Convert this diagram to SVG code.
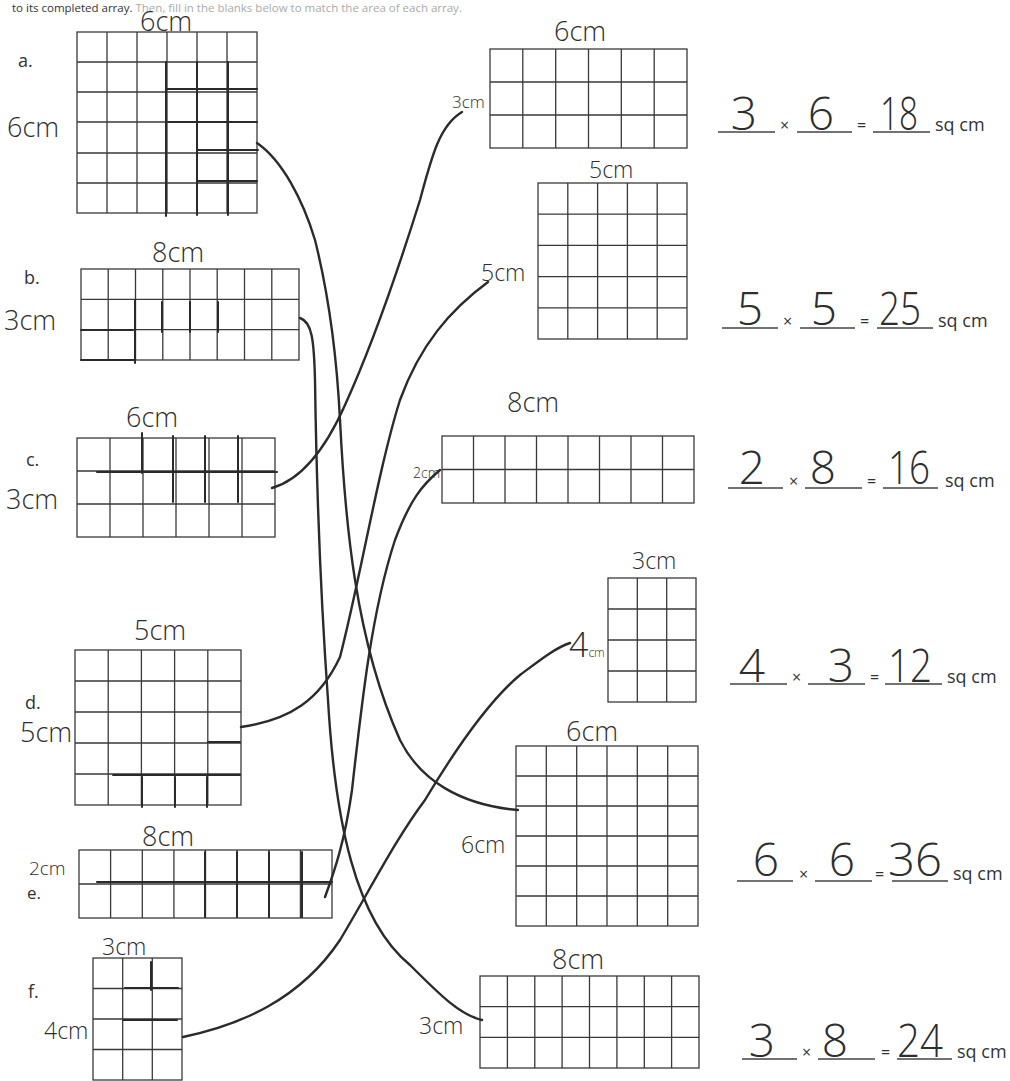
<svg xmlns="http://www.w3.org/2000/svg" width="1010" height="1081" viewBox="0 0 1010 1081">
<style>
.g{fill:none;stroke:#3a3a3a;stroke-width:1.3}
.m{fill:none;stroke:#2a2a2a;stroke-width:2;stroke-linecap:round}
.c{fill:none;stroke:#2b2b2b;stroke-width:2.4;stroke-linecap:round;stroke-linejoin:round}
.h{font-family:"Open Sans","Liberation Sans",sans-serif;font-weight:300;fill:#2e2e2e}
.hl{font-size:27px}
.hs{font-size:23px}
.n{font-size:46px;text-anchor:middle}
.p{font-family:"Open Sans","Liberation Sans",sans-serif;fill:#333;font-size:18px}
.o{font-size:16px}
.u{stroke:#444;stroke-width:1.4}
</style>
<rect width="1010" height="1081" fill="#fff"/>
<text x="12" y="12" style="font-family:'Open Sans','Liberation Sans',sans-serif;font-size:11.5px;fill:#333">to its completed array.  <tspan fill="#aaa">Then, fill in the blanks below to match the area of each array.</tspan></text>

<g id="grid-a">
<rect class="g" x="77" y="32" width="180" height="181"/>
<path class="g" d="M107 32V213M137 32V213M167 32V213M197 32V213M227 32V213M77 62H257M77 92H257M77 122H257M77 153H257M77 183H257"/>
<path class="m" d="M166 62V216M197 62V215M228 62V215M167 89H257M168 122H257M198 150H258M198 181H257"/>
<text class="p" x="18" y="67">a.</text>
<text class="h hl" x="140" y="31">6cm</text>
<text class="h hl" x="7" y="137">6cm</text>
</g>

<g id="grid-b">
<rect class="g" x="81" y="269" width="218" height="91"/>
<path class="g" d="M108.2 269V360M135.5 269V360M162.8 269V360M190 269V360M217.2 269V360M244.5 269V360M271.8 269V360M81 299.3H299M81 329.7H299"/>
<path class="m" d="M135 300V363M162 302V332M190 302V332M218 302V332M81 330H133M81 360H135"/>
<text class="p" x="24" y="284">b.</text>
<text class="h hl" x="152" y="262">8cm</text>
<text class="h hl" x="4" y="330">3cm</text>
</g>

<g id="grid-c">
<rect class="g" x="77" y="438" width="198" height="99"/>
<path class="g" d="M110 438V537M143 438V537M176 438V537M209 438V537M242 438V537M77 471H275M77 504H275"/>
<path class="m" d="M142 433V473M173 436V502M205 436V502M238 436V502M97 472H277"/>
<text class="p" x="26" y="466">c.</text>
<text class="h hl" x="126" y="427">6cm</text>
<text class="h hl" x="6" y="509">3cm</text>
</g>

<g id="grid-d">
<rect class="g" x="75" y="650" width="166" height="155"/>
<path class="g" d="M108.2 650V805M141.4 650V805M174.6 650V805M207.8 650V805M75 681H241M75 712H241M75 743H241M75 774H241"/>
<path class="m" d="M113 775H240M208 742H240M142 777V807M175 777V807M207 777V807"/>
<text class="p" x="25" y="709">d.</text>
<text class="h hl" x="134" y="640">5cm</text>
<text class="h hl" x="20" y="742">5cm</text>
</g>

<g id="grid-e">
<rect class="g" x="79" y="850" width="253" height="68"/>
<path class="g" d="M110.6 850V918M142.3 850V918M173.9 850V918M205.5 850V918M237.1 850V918M268.8 850V918M300.4 850V918M79 884H332"/>
<path class="m" d="M97 882H332M205 852V917M237 852V917M269 852V917M302 852V917"/>
<text class="p" x="27" y="899" style="font-size:17px">e.</text>
<text class="h" x="29" y="875" font-size="19">2cm</text>
<text class="h hl" x="142" y="846">8cm</text>
</g>

<g id="grid-f">
<rect class="g" x="93" y="958" width="89" height="122"/>
<path class="g" d="M122.7 958V1080M152.3 958V1080M93 988.5H182M93 1019H182M93 1049.5H182"/>
<path class="m" d="M125 988H178M123 1020H177M151 962V990"/>
<text class="p" x="28" y="998">f.</text>
<text class="h hs" x="102" y="955">3cm</text>
<text class="h hs" x="44" y="1039">4cm</text>
</g>

<g id="grid-r1">
<rect class="g" x="490" y="49" width="197" height="99"/>
<path class="g" d="M522.8 49V148M555.7 49V148M588.5 49V148M621.3 49V148M654.2 49V148M490 82H687M490 115H687"/>
<text class="h hl" x="554" y="41">6cm</text>
<text class="h" x="452" y="108" font-size="17">3cm</text>
</g>

<g id="grid-r2">
<rect class="g" x="538" y="183" width="149" height="156"/>
<path class="g" d="M567.8 183V339M597.6 183V339M627.4 183V339M657.2 183V339M538 214.2H687M538 245.4H687M538 276.6H687M538 307.8H687"/>
<text class="h hs" x="589" y="178">5cm</text>
<text class="h hs" x="481" y="281">5cm</text>
</g>

<g id="grid-r3">
<rect class="g" x="442" y="436" width="252" height="67"/>
<path class="g" d="M473.5 436V503M505 436V503M536.5 436V503M568 436V503M599.5 436V503M631 436V503M662.5 436V503M442 469.5H694"/>
<text class="h hl" x="507" y="412">8cm</text>
<text class="h" x="413" y="478" font-size="14">2cm</text>
</g>

<g id="grid-r4">
<rect class="g" x="608" y="578" width="88" height="124"/>
<path class="g" d="M637.3 578V702M666.7 578V702M608 609H696M608 640H696M608 671H696"/>
<text class="h hs" x="632" y="569">3cm</text>
<text class="h" x="569" y="657" font-size="34">4<tspan font-size="12">cm</tspan></text>
</g>

<g id="grid-r5">
<rect class="g" x="516" y="746" width="182" height="180"/>
<path class="g" d="M546.3 746V926M576.7 746V926M607 746V926M637.3 746V926M667.7 746V926M516 776H698M516 806H698M516 836H698M516 866H698M516 896H698"/>
<text class="h hl" x="566" y="741">6cm</text>
<text class="h hs" x="461" y="853">6cm</text>
</g>

<g id="grid-r6">
<rect class="g" x="480" y="976" width="219" height="92"/>
<path class="g" d="M507.4 976V1068M534.8 976V1068M562.1 976V1068M589.5 976V1068M616.9 976V1068M644.3 976V1068M671.6 976V1068M480 1006.7H699M480 1037.3H699"/>
<text class="h hl" x="552" y="969">8cm</text>
<text class="h hs" x="419" y="1034">3cm</text>
</g>

<g id="eq1">
<path class="u" d="M718 132H775M797 132H852M873 132H930"/>
<text class="p o" x="780" y="131">×</text>
<text class="p o" x="857" y="131">=</text>
<text class="p" x="935" y="131">sq cm</text>
<text class="h n" x="744" y="130">3</text>
<text class="h n" x="821" y="130">6</text>
<text class="h n" x="899" y="130" textLength="38" lengthAdjust="spacingAndGlyphs">18</text>
</g>
<g id="eq2">
<path class="u" d="M722 328H778M800 328H855M877 328H933"/>
<text class="p o" x="783" y="327">×</text>
<text class="p o" x="860" y="327">=</text>
<text class="p" x="938" y="327">sq cm</text>
<text class="h n" x="750" y="325">5</text>
<text class="h n" x="824" y="325">5</text>
<text class="h n" x="900" y="325" textLength="42" lengthAdjust="spacingAndGlyphs">25</text>
</g>
<g id="eq3">
<path class="u" d="M728 488H783M805 488H862M883 488H938"/>
<text class="p o" x="789" y="487">×</text>
<text class="p o" x="867" y="487">=</text>
<text class="p" x="945" y="487">sq cm</text>
<text class="h n" x="752" y="484">2</text>
<text class="h n" x="823" y="484">8</text>
<text class="h n" x="909" y="484" textLength="42" lengthAdjust="spacingAndGlyphs">16</text>
</g>
<g id="eq4">
<path class="u" d="M730 684H787M808 684H865M885 684H942"/>
<text class="p o" x="792" y="683">×</text>
<text class="p o" x="870" y="683">=</text>
<text class="p" x="947" y="683">sq cm</text>
<text class="h n" x="752" y="682">4</text>
<text class="h n" x="841" y="682">3</text>
<text class="h n" x="910" y="682" textLength="44" lengthAdjust="spacingAndGlyphs">12</text>
</g>
<g id="eq5">
<path class="u" d="M737 881H793M815 881H872M892 881H948"/>
<text class="p o" x="799" y="880">×</text>
<text class="p o" x="875" y="880">=</text>
<text class="p" x="953" y="880">sq cm</text>
<text class="h n" x="766" y="876">6</text>
<text class="h n" x="842" y="876">6</text>
<text class="h n" x="915" y="876" textLength="54" lengthAdjust="spacingAndGlyphs">36</text>
</g>
<g id="eq6">
<path class="u" d="M742 1059H797M818 1059H875M897 1059H952"/>
<text class="p o" x="802" y="1058">×</text>
<text class="p o" x="881" y="1058">=</text>
<text class="p" x="957" y="1058">sq cm</text>
<text class="h n" x="762" y="1057">3</text>
<text class="h n" x="835" y="1057">8</text>
<text class="h n" x="920" y="1057" textLength="46" lengthAdjust="spacingAndGlyphs">24</text>
</g>

<g id="connectors">
<path class="c" d="M257 143C282 160 303 200 315 240C330 300 337 360 340 420C345 520 355 640 400 740C420 780 460 805 518 810"/>
<path class="c" d="M300 318C312 322 314 340 315 380C316 450 318 560 328 700C335 820 355 920 410 965C440 995 460 1015 482 1020"/>
<path class="c" d="M272 488C300 480 325 450 345 405C370 350 395 280 420 200C432 155 440 125 462 112"/>
<path class="c" d="M241 727C290 720 320 700 340 657C360 580 378 470 400 400C420 345 450 310 488 282"/>
<path class="c" d="M325 897C335 870 345 840 352 790C362 700 372 610 395 540C410 500 422 485 440 470"/>
<path class="c" d="M183 1037C240 1025 300 1000 340 940C370 890 395 840 425 800C455 750 490 700 520 675C540 660 555 648 570 643"/>
</g>
</svg>
